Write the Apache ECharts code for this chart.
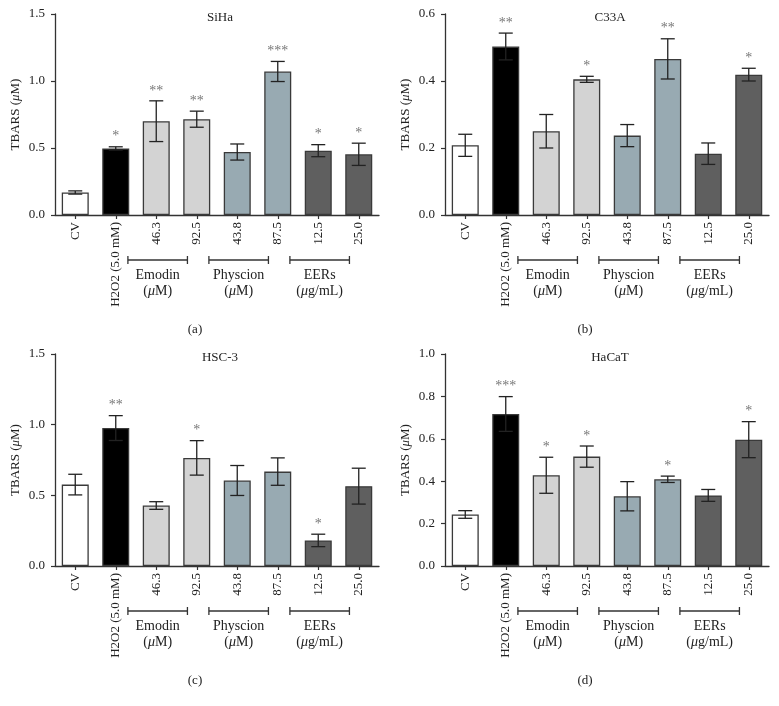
<!DOCTYPE html>
<html>
<head>
<meta charset="utf-8">
<script src="https://cdn.jsdelivr.net/npm/echarts@6/dist/echarts.min.js"></script>
<style>
html,body{margin:0;padding:0;background:#fff;}
#chart{width:779px;height:706px;}
</style>
</head>
<body>
<div id="chart"></div>
<script>
// ---- data ----
const categories = ['CV', 'H2O2 (5.0 mM)', '46.3', '92.5', '43.8', '87.5', '12.5', '25.0'];
const panelTitles = ['SiHa', 'C33A', 'HSC-3', 'HaCaT'];
const panelCaptions = ['(a)', '(b)', '(c)', '(d)'];

const sihaMean = [0.168, 0.497, 0.700, 0.715, 0.470, 1.071, 0.480, 0.453];
const sihaErr  = [0.012, 0.012, 0.152, 0.060, 0.060, 0.075, 0.045, 0.083];
const sihaStars = ['', '*', '**', '**', '', '***', '*', '*'];

const c33aMean = [0.208, 0.503, 0.250, 0.405, 0.237, 0.466, 0.183, 0.419];
const c33aErr  = [0.033, 0.040, 0.050, 0.009, 0.033, 0.060, 0.032, 0.019];
const c33aStars = ['', '**', '', '*', '', '**', '', '*'];

const hsc3Mean = [0.576, 0.976, 0.428, 0.765, 0.605, 0.668, 0.181, 0.565];
const hsc3Err  = [0.073, 0.088, 0.027, 0.122, 0.106, 0.097, 0.044, 0.127];
const hsc3Stars = ['', '**', '', '*', '', '', '*', ''];

const hacatMean = [0.243, 0.717, 0.428, 0.516, 0.329, 0.409, 0.333, 0.596];
const hacatErr  = [0.018, 0.082, 0.085, 0.050, 0.069, 0.015, 0.028, 0.085];
const hacatStars = ['', '***', '*', '*', '', '*', '', '*'];

const yMaxes = [1.5, 0.6, 1.5, 1.0];
const yIntervals = [0.5, 0.2, 0.5, 0.2];

const groupNames = ['Emodin', 'Physcion', 'EERs'];
const groupUnits = ['({i|\u03bc}M)', '({i|\u03bc}M)', '({i|\u03bc}g/mL)'];
const groupAnchors = [2, 4, 6];

const barColors = ['#ffffff', '#000000', '#d3d3d3', '#d3d3d3', '#98aab2', '#98aab2', '#5f5f5f', '#5f5f5f'];

// ---- build ----
const panels = [
  {mean: sihaMean, err: sihaErr, stars: sihaStars},
  {mean: c33aMean, err: c33aErr, stars: c33aStars},
  {mean: hsc3Mean, err: hsc3Err, stars: hsc3Stars},
  {mean: hacatMean, err: hacatErr, stars: hacatStars}
];

const FONT = '"Liberation Serif", "DejaVu Serif", serif';
const TXT = '#222';
const LINE = '#333';

const gridPos = [
  {left: 55, top: 14, width: 324, height: 201},
  {left: 445, top: 14, width: 324, height: 201},
  {left: 55, top: 354, width: 324, height: 212},
  {left: 445, top: 354, width: 324, height: 212}
];

const grids = [], xAxes = [], yAxes = [], series = [], titles = [];

panels.forEach((p, k) => {
  const g = gridPos[k];
  grids.push({left: g.left, top: g.top, width: g.width, height: g.height, containLabel: false});
  xAxes.push({
    type: 'category', gridIndex: k, data: categories,
    axisLine: {show: true, lineStyle: {color: LINE, width: 1.3}},
    axisTick: {show: true, alignWithLabel: true, length: 4, lineStyle: {color: LINE, width: 1.2}},
    axisLabel: {interval: 0, rotate: 90, margin: 7, fontFamily: FONT, fontSize: 13, color: TXT},
    splitLine: {show: false}
  });
  yAxes.push({
    type: 'value', gridIndex: k, min: 0, max: yMaxes[k], interval: yIntervals[k],
    name: 'TBARS ({i|\u03bc}M)', nameLocation: 'middle', nameGap: 33,
    nameTextStyle: {fontFamily: FONT, fontSize: 13, color: TXT,
      rich: {i: {fontStyle: 'italic', fontFamily: FONT, fontSize: 13, color: TXT}}},
    axisLine: {show: true, lineStyle: {color: LINE, width: 1.3}},
    axisTick: {show: true, length: 4, lineStyle: {color: LINE, width: 1.2}},
    axisLabel: {margin: 10, fontFamily: FONT, fontSize: 13, color: TXT,
      formatter: v => v.toFixed(1)},
    splitLine: {show: false}
  });
  titles.push({text: panelTitles[k], left: g.left + g.width / 2 - 2, top: g.top - 8, textAlign: 'center',
    textStyle: {fontFamily: FONT, fontSize: 13, fontWeight: 'normal', color: TXT}});
  titles.push({text: panelCaptions[k], left: g.left + g.width / 2 - 27, top: g.top + g.height + 103, textAlign: 'center',
    textStyle: {fontFamily: FONT, fontSize: 13, fontWeight: 'normal', color: TXT}});

  series.push({
    type: 'bar', xAxisIndex: k, yAxisIndex: k, barWidth: 27,
    data: p.mean.map((v, i) => ({value: v, itemStyle: {color: barColors[i]}})),
    itemStyle: {borderColor: '#3a3a3a', borderWidth: 1.3},
    silent: true, animation: false
  });

  const stars = p.stars;
  series.push({
    type: 'custom', xAxisIndex: k, yAxisIndex: k, clip: false, z: 5, animation: false, silent: true,
    encode: {x: 0, y: [1, 2]},
    data: p.mean.map((v, i) => [i, v - p.err[i], v + p.err[i]]),
    renderItem: function (params, api) {
      const i = api.value(0);
      const top = api.coord([i, api.value(2)]);
      const bot = api.coord([i, api.value(1)]);
      const hw = 7;
      const st = {stroke: '#222', lineWidth: 1.3};
      const children = [
        {type: 'line', shape: {x1: top[0], y1: top[1], x2: bot[0], y2: bot[1]}, style: st},
        {type: 'line', shape: {x1: top[0] - hw, y1: top[1], x2: top[0] + hw, y2: top[1]}, style: st},
        {type: 'line', shape: {x1: bot[0] - hw, y1: bot[1], x2: bot[0] + hw, y2: bot[1]}, style: st}
      ];
      const s = stars[params.dataIndex];
      if (s) {
        children.push({type: 'text', style: {text: s, x: top[0], y: top[1] - 3,
          textAlign: 'center', textVerticalAlign: 'bottom',
          font: '14px ' + FONT, fill: '#777'}});
      }
      return {type: 'group', children: children};
    }
  });

  series.push({
    type: 'custom', xAxisIndex: k, yAxisIndex: k, clip: false, z: 5, animation: false, silent: true,
    encode: {x: 0, y: 1},
    data: groupAnchors.map(a => [a, 0]),
    renderItem: function (params, api) {
      const c = api.coord([api.value(0), 0]);
      const band = api.size([1, 0])[0];
      const x1 = c[0] - 0.7 * band, x2 = c[0] + 0.77 * band;
      const y = c[1] + 45;
      const st = {stroke: LINE, lineWidth: 1.3};
      const mid = (x1 + x2) / 2;
      return {type: 'group', children: [
        {type: 'line', shape: {x1: x1, y1: y, x2: x2, y2: y}, style: st},
        {type: 'line', shape: {x1: x1, y1: y - 4, x2: x1, y2: y + 4}, style: st},
        {type: 'line', shape: {x1: x2, y1: y - 4, x2: x2, y2: y + 4}, style: st},
        {type: 'text', style: {text: groupNames[params.dataIndex], x: mid, y: y + 15,
          textAlign: 'center', textVerticalAlign: 'middle', font: '14px ' + FONT, fill: TXT}},
        {type: 'text', style: {text: groupUnits[params.dataIndex], x: mid, y: y + 31,
          textAlign: 'center', textVerticalAlign: 'middle', font: '14px ' + FONT, fill: TXT,
          rich: {i: {fontStyle: 'italic', fontFamily: FONT, fontSize: 14, fill: TXT}}}}
      ]};
    }
  });
});

const chart = echarts.init(document.getElementById('chart'), null, {renderer: 'canvas'});
chart.setOption({
  animation: false,
  backgroundColor: '#ffffff',
  title: titles,
  grid: grids,
  xAxis: xAxes,
  yAxis: yAxes,
  series: series
});
</script>
</body>
</html>
